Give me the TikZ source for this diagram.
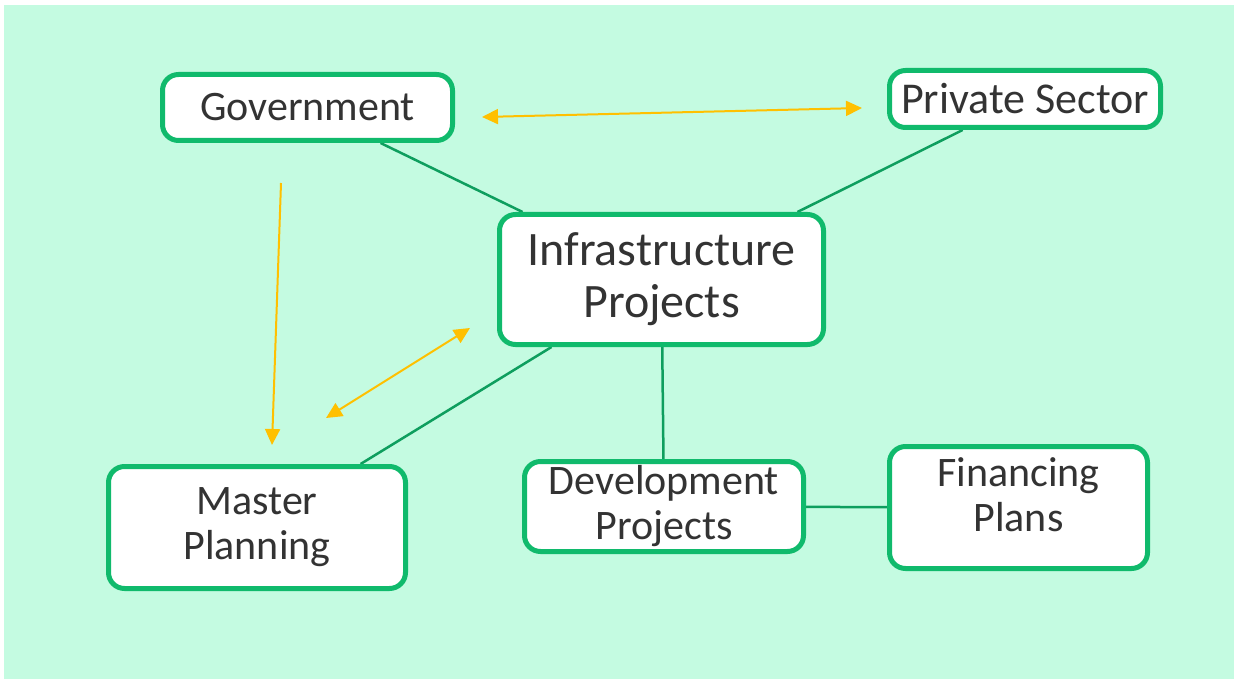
\documentclass[tikz,border=0pt]{standalone}
\usepackage{fontspec}
\setmainfont{Carlito}
\usetikzlibrary{arrows.meta,backgrounds}
\definecolor{mint}{HTML}{C4FBE1}
\definecolor{boxgreen}{HTML}{10BA6C}
\definecolor{linegreen}{HTML}{0E9E5E}
\definecolor{amber}{HTML}{FFC000}
\definecolor{ink}{HTML}{333333}

\begin{document}
\begin{tikzpicture}[x=1pt, y=-1pt,
  box/.style={draw=boxgreen, line width=5pt, fill=white, rounded corners=16pt,
    align=center, text=ink, inner sep=0pt, font=\fontsize{42}{45}\selectfont},
  link/.style={draw=linegreen, line width=2.5pt},
  flow/.style={draw=amber, line width=2pt},
  >={Triangle[length=16pt,width=15pt]}]
\useasboundingbox (0,0) rectangle (1234,679);
% the six boxes
\node[box, minimum width=290pt, minimum height=66pt] (gov) at (307.5,107.5) {Government};
\node[box, minimum width=271pt, minimum height=57pt,
  font=\fontsize{44}{46}\selectfont] (priv) at (1025,99) {Private Sector};
\node[box, minimum width=324pt, minimum height=130pt,
  font=\fontsize{48}{52}\selectfont] (infra) at (661.5,279.5) {Infrastructure\\Projects};
\node[box, minimum width=297pt, minimum height=122pt] (plan) at (257,527.5) {Master\\Planning};
\node[box, minimum width=279pt, minimum height=90pt] (dev) at (664,506.5) {Development\\Projects};
\node[box, minimum width=258pt, minimum height=122pt] (fin) at (1018.5,507.5)
  {Financing\\Plans\rule[-26pt]{0pt}{1pt}};
% free arrow ends
\coordinate (govR) at (482,117);
\coordinate (privL) at (862,108);
\coordinate (govD) at (281,183);
\coordinate (planU) at (272,445);
\coordinate (planR) at (326,418);
\coordinate (infraL) at (470,328);
\begin{scope}[on background layer]
  \fill[mint] (4,5) rectangle (1234,679);
  \draw[link] (gov) -- (infra);
  \draw[link] (priv) -- (infra);
  \draw[link] (plan) -- (infra);
  \draw[link] (dev) -- (infra);
  \draw[link] (dev) -- (fin);
\end{scope}
\draw[flow, <->] (govR) -- (privL);
\draw[flow, ->] (govD) -- (planU);
\draw[flow, <->] (planR) -- (infraL);
\end{tikzpicture}
\end{document}
